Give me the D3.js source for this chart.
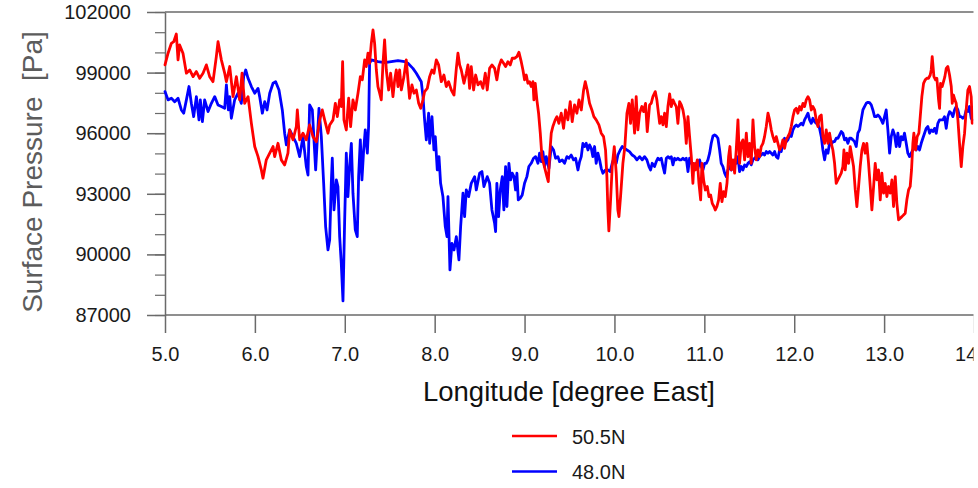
<!DOCTYPE html>
<html>
<head>
<meta charset="utf-8">
<script src="https://cdn.jsdelivr.net/npm/d3@7"></script>
<style>
  html, body { margin: 0; padding: 0; background: #fff; overflow: hidden; }
  svg { display: block; font-family: "Liberation Sans", Arial, Helvetica, sans-serif; }
</style>
</head>
<body>
<svg id="chart" width="978" height="488"></svg>
<script>
// Surface pressure along two latitude bands, [longitude (deg E), pressure (Pa)]
const ps505N = [
[5.000,99380],[5.034,99960],[5.071,100450],[5.097,100530],[5.126,100910],[5.145,99630],[5.163,100370],[5.200,99960],
[5.238,98970],[5.275,99130],[5.312,98800],[5.349,99050],[5.386,98720],[5.423,98970],[5.460,99380],[5.497,98800],
[5.534,98550],[5.571,99790],[5.590,100530],[5.627,99630],[5.664,98970],[5.683,98550],[5.720,99300],[5.757,97810],
[5.794,98800],[5.831,97650],[5.857,98970],[5.886,97480],[5.924,97810],[5.961,96490],[5.998,95340],[6.035,94840],
[6.072,94180],[6.090,93770],[6.127,94680],[6.165,95010],[6.202,95340],[6.220,94840],[6.257,95500],[6.294,94680],
[6.331,94430],[6.368,95010],[6.387,96160],[6.424,95670],[6.461,96330],[6.472,97150],[6.498,95670],[6.535,96000],
[6.572,95670],[6.609,96410],[6.646,95830],[6.684,95580],[6.721,96660],[6.750,97150],[6.776,96660],[6.813,96000],
[6.832,96410],[6.869,96660],[6.895,97480],[6.917,96820],[6.943,97650],[6.961,97320],[6.976,99540],[6.991,96660],
[7.017,96160],[7.043,97730],[7.065,96330],[7.091,97650],[7.117,97150],[7.147,97980],[7.173,98800],[7.195,98640],
[7.221,99630],[7.239,99300],[7.258,99960],[7.276,99460],[7.295,100450],[7.314,101110],[7.332,100450],[7.351,99130],
[7.369,98310],[7.388,97980],[7.406,97650],[7.425,99460],[7.443,100620],[7.462,99130],[7.488,98140],[7.510,98970],
[7.536,97810],[7.555,98640],[7.573,99130],[7.592,98310],[7.610,99130],[7.629,98140],[7.658,98800],[7.684,99630],
[7.703,98640],[7.721,97730],[7.747,98390],[7.770,97980],[7.796,98140],[7.822,97480],[7.844,97230],[7.870,97650],
[7.888,98060],[7.918,98220],[7.944,98800],[7.970,99130],[7.992,98970],[8.018,99630],[8.044,99380],[8.074,98550],
[8.103,98880],[8.129,98310],[8.155,98550],[8.185,98140],[8.215,97890],[8.241,99210],[8.259,99960],[8.278,99380],
[8.296,99130],[8.326,98470],[8.352,98970],[8.370,99380],[8.389,98220],[8.407,99300],[8.433,98140],[8.456,98880],
[8.482,98390],[8.511,98550],[8.537,98220],[8.563,98970],[8.585,98140],[8.611,99210],[8.637,99380],
[8.667,99210],[8.692,98640],[8.715,99300],[8.741,99630],[8.767,99460],[8.789,99300],[8.815,99540],[8.841,99380],
[8.863,99710],[8.889,99710],[8.915,99790],[8.937,100010],[8.963,99540],[8.982,99130],[9.000,98640],[9.019,98880],
[9.037,98470],[9.056,98550],[9.074,98310],[9.093,98550],[9.104,97650],[9.119,98470],[9.137,97650],[9.156,96990],
[9.175,96000],[9.193,94840],[9.212,94510],[9.230,94180],[9.249,93850],[9.264,93600],[9.278,94840],[9.297,96000],
[9.315,96330],[9.341,96660],[9.360,96820],[9.382,96490],[9.408,96990],[9.434,96240],[9.456,97150],[9.482,96660],
[9.508,97560],[9.530,96570],[9.556,97400],[9.582,96990],[9.605,97650],[9.631,97150],[9.657,98140],[9.675,98550],
[9.697,98140],[9.723,97480],[9.749,97150],[9.771,96820],[9.797,96660],[9.827,96410],[9.853,96000],[9.879,95830],
[9.901,95170],[9.916,93850],[9.927,92200],[9.938,91160],[9.957,92700],[9.975,94350],[9.998,95340],[10.020,94020],
[10.038,92200],[10.050,91870],[10.068,92860],[10.094,94510],[10.116,95340],[10.139,96990],[10.161,97480],[10.179,96490],
[10.198,97650],[10.224,96000],[10.242,97810],[10.261,96160],[10.280,96990],[10.305,97320],[10.324,97070],[10.346,97480],
[10.365,96080],[10.391,97400],[10.409,97480],[10.428,97810],[10.454,98060],[10.472,97650],
[10.503,96490],[10.521,96820],[10.540,96410],[10.558,96990],[10.577,96330],[10.595,97320],[10.614,97940],[10.632,97320],
[10.651,97650],[10.669,97480],[10.688,97320],[10.706,96490],[10.725,97560],[10.744,97400],[10.762,97150],[10.781,96660],
[10.799,95500],[10.818,96820],[10.836,95830],[10.855,94840],[10.873,93520],[10.884,94510],[10.899,94180],[10.922,94680],
[10.940,93520],[10.959,92700],[10.973,94510],[10.992,93690],[11.011,93190],[11.033,93360],[11.051,92860],[11.070,92940],
[11.088,92530],[11.107,92370],[11.122,92200],[11.140,92370],[11.159,92700],[11.177,93520],[11.196,92610],[11.214,93110],
[11.233,92860],[11.252,93520],[11.270,94840],[11.285,95340],[11.300,94180],[11.318,94680],[11.337,94020],[11.355,95170],
[11.374,96660],[11.392,94510],[11.411,95500],[11.429,95670],[11.448,94680],[11.467,96000],[11.485,94840],[11.504,95500],
[11.522,94510],[11.541,96660],[11.559,95340],[11.578,94680],[11.596,95170],[11.615,94840],[11.633,95340],[11.652,95500],
[11.670,95830],[11.689,96330],[11.708,96990],[11.726,96660],[11.745,96160],[11.763,95830],[11.782,95580],[11.800,95830],
[11.819,95500],[11.837,95170],[11.856,95340],[11.874,95670],[11.893,95250],[11.911,95670],[11.930,95830],[11.949,96000],
[11.967,96330],[11.986,96820],[12.004,97150],[12.023,97230],[12.041,96990],[12.060,97320],[12.078,97150],[12.097,97480],
[12.115,97320],[12.134,97650],[12.153,97810],[12.171,97650],[12.190,97150],[12.208,97320],[12.227,97150],[12.245,96660],
[12.264,96330],[12.282,96820],[12.301,96900],[12.319,95830],
[12.338,95500],[12.356,96160],[12.375,95500],[12.393,96000],[12.412,95500],[12.430,95170],[12.449,94510],[12.467,93520],
[12.486,93690],[12.504,93850],[12.523,94020],[12.541,94350],[12.553,95170],[12.567,94180],[12.586,95010],[12.605,94510],
[12.623,95340],[12.642,94840],[12.660,94350],[12.679,93190],[12.697,92370],[12.716,93360],[12.734,94350],[12.753,95170],
[12.771,95500],[12.790,95010],[12.808,95500],[12.827,94510],[12.846,93360],[12.864,92200],[12.883,93360],[12.901,94510],
[12.920,93690],[12.938,94180],[12.957,92700],[12.975,94020],[12.994,93030],[13.012,93520],[13.031,92860],[13.049,93360],
[13.068,93030],[13.087,93690],[13.105,92370],[13.124,93850],[13.142,92530],[13.161,91710],[13.179,91790],[13.198,91870],
[13.216,91950],[13.235,92040],[13.253,92700],[13.272,93190],[13.290,93360],[13.305,94180],[13.320,95500],[13.331,96000],
[13.350,95170],[13.368,95830],[13.387,96000],[13.402,96820],[13.420,97810],[13.439,98470],[13.457,98640],[13.476,98720],
[13.494,98720],[13.513,98880],[13.524,99130],[13.535,99790],[13.554,98800],[13.572,98640],[13.587,98720],[13.606,97650],
[13.617,97230],[13.628,98470],[13.646,98310],[13.661,98550],[13.676,98800],[13.691,99210],[13.709,99300],[13.728,98880],
[13.747,98310],[13.758,97480],[13.772,97890],[13.787,97650],[13.802,97480],[13.821,96660],[13.839,95500],[13.858,94350],
[13.876,95340],[13.895,96000],[13.913,97150],[13.932,98140],[13.950,98310],[13.969,97810],[13.980,96490]
];

const ps480N = [
[5.000,98060],[5.034,97650],[5.071,97730],[5.108,97560],[5.145,97730],[5.182,97150],[5.208,96990],[5.238,97650],
[5.267,98310],[5.293,97480],[5.319,96820],[5.349,97810],[5.378,96660],[5.393,97650],[5.416,96570],[5.441,97650],
[5.479,97070],[5.516,97480],[5.553,97810],[5.590,97400],[5.627,97320],[5.664,97230],[5.683,98390],[5.705,97150],
[5.720,97810],[5.738,96740],[5.775,97650],[5.812,97980],[5.849,97480],[5.875,98800],[5.898,99130],[5.924,98720],
[5.961,98310],[5.998,97980],[6.035,98220],[6.053,97810],[6.083,96990],[6.109,97560],[6.135,97150],[6.165,97980],
[6.202,98470],[6.231,98550],[6.268,98140],[6.305,97150],[6.331,96000],[6.350,95420],[6.387,96160],[6.424,95830],
[6.461,95500],[6.498,94840],[6.535,95830],[6.572,94350],[6.591,93930],[6.609,97400],[6.639,97150],[6.676,94180],
[6.713,97230],[6.739,95830],[6.765,93520],[6.787,91380],[6.813,90220],
[6.832,90720],[6.850,93520],[6.861,94760],[6.880,92200],[6.906,93690],[6.924,93360],[6.943,90880],[6.961,89560],
[6.980,87700],[6.998,91540],[7.017,95010],[7.035,92860],[7.054,94350],[7.073,95500],[7.091,93030],[7.117,91210],
[7.139,90880],[7.154,93850],[7.173,95670],[7.191,93690],[7.210,95170],[7.228,96160],[7.251,95010],[7.265,96330],
[7.276,99460],[7.295,99630],[7.369,99540],[7.443,99490],[7.517,99540],[7.592,99590],[7.666,99540],[7.703,99460],
[7.758,99210],[7.796,98970],[7.851,98550],[7.870,97810],[7.888,96660],[7.907,95670],[7.933,96990],[7.944,95500],
[7.970,96820],[7.992,95170],[8.007,95830],[8.029,94180],[8.048,94840],[8.066,93520],[8.092,92860],[8.118,91380],
[8.137,90880],[8.148,92860],[8.170,89230],[8.192,90550],[8.215,90220],[8.241,90880],[8.270,89730],[8.289,91380],
[8.315,93030],[8.333,91870],[8.352,93190],[8.378,92860],[8.407,93520],[8.445,93850],[8.463,93190],[8.500,94020],
[8.526,94100],[8.548,93360],[8.585,93850],[8.611,93520],[8.637,92200],
[8.667,91540],[8.678,91130],[8.692,93520],[8.711,91870],[8.730,93190],[8.752,93850],[8.770,92200],[8.789,94350],
[8.804,92370],[8.826,94510],[8.845,93690],[8.863,94020],[8.882,93850],[8.900,93190],[8.915,94020],[8.930,92700],
[8.952,92780],[8.974,92940],[9.000,93520],[9.026,93850],[9.048,94350],[9.074,94510],[9.100,94760],[9.123,94840],
[9.149,94510],[9.167,95010],[9.186,94590],[9.204,95090],[9.223,94350],[9.241,94840],[9.271,94260],[9.297,95340],
[9.323,95170],[9.345,94760],[9.371,94840],[9.390,94590],[9.419,94680],[9.445,94510],[9.471,94840],[9.493,94760],
[9.519,94920],[9.545,94680],[9.568,94760],[9.594,94180],[9.612,94590],[9.631,94840],[9.649,95500],[9.668,95340],
[9.686,95500],[9.705,95170],[9.723,95420],[9.742,95250],[9.760,94840],[9.779,95340],[9.797,94510],[9.816,95010],
[9.835,94680],[9.853,94260],[9.872,94020],[9.901,94180],[9.927,94180],[9.953,94100],[9.975,94510],[10.001,94840],
[10.020,94510],[10.038,94920],[10.064,95170],[10.087,95340],[10.113,95250],[10.139,95170],[10.168,95090],[10.198,94920],
[10.224,94840],[10.250,94680],[10.280,94840],[10.309,94680],[10.335,94840],[10.361,94680],[10.384,94350],[10.402,94180],
[10.420,94510],[10.446,94350],[10.465,94590],
[10.484,94760],[10.503,94680],[10.521,94760],[10.540,94350],[10.558,94020],[10.577,94760],[10.595,94840],[10.614,94760],
[10.632,94840],[10.651,94430],[10.669,94760],[10.688,94680],[10.706,94760],[10.725,94680],[10.744,94680],[10.762,94760],
[10.781,94680],[10.799,94760],[10.818,94100],[10.836,94760],[10.855,94510],[10.873,94510],[10.892,94350],[10.910,94510],
[10.929,94260],[10.947,94680],[10.966,94350],[10.985,94180],[11.003,94510],[11.022,94510],[11.040,94680],[11.059,95010],
[11.077,95500],[11.096,95860],[11.114,95910],[11.133,95860],[11.151,95750],[11.170,95170],[11.188,94510],[11.207,94350],
[11.226,94020],[11.244,93850],[11.263,94180],[11.281,94350],[11.300,94180],[11.318,94350],[11.337,94680],[11.355,94510],
[11.374,94840],[11.392,94100],[11.411,94350],[11.429,94180],[11.448,94430],[11.467,94350],[11.485,94510],[11.504,94590],
[11.522,94430],[11.541,94680],[11.559,94760],[11.578,94840],[11.596,94680],[11.615,94840],[11.633,94920],[11.652,95010],
[11.670,94920],[11.689,95090],[11.708,95010],[11.726,95090],[11.745,95010],[11.763,94920],[11.782,95090],[11.800,94840],
[11.819,94760],[11.837,95170],[11.856,95090],[11.874,95500],[11.893,95750],[11.911,95580],[11.930,95670],[11.949,95910],
[11.967,95830],[11.986,96160],[12.004,96330],[12.023,96410],[12.041,96330],[12.060,96410],[12.078,96490],[12.097,96410],
[12.115,96660],[12.134,96820],[12.153,96990],[12.171,96660],[12.190,96490],[12.208,96740],[12.227,96570],[12.245,96490],
[12.264,96410],[12.282,96240],[12.301,95830],[12.319,95170],
[12.338,94680],[12.356,95170],[12.375,95010],[12.393,95500],[12.412,95420],[12.430,95580],[12.449,95580],[12.467,95750],
[12.486,95750],[12.504,95910],[12.523,96080],[12.541,96000],[12.560,95670],[12.579,95750],[12.597,95500],[12.616,95750],
[12.634,95750],[12.653,95670],[12.671,95580],[12.690,95340],[12.708,96000],[12.727,96160],[12.745,96660],[12.764,97150],
[12.782,97320],[12.801,97480],[12.820,97530],[12.838,97510],[12.857,97400],[12.875,97150],[12.894,96820],[12.912,96820],
[12.931,96900],[12.949,96820],[12.968,96660],[12.986,96490],[13.005,96820],[13.023,97150],[13.042,96160],[13.061,95010],
[13.079,95830],[13.098,96160],[13.116,95910],[13.135,95340],[13.153,96000],[13.172,95340],[13.190,95830],[13.209,95670],
[13.227,96000],[13.246,95500],[13.264,95010],[13.283,94840],[13.302,95010],[13.320,95170],[13.339,95340],[13.357,95170],
[13.376,95340],[13.394,95170],[13.413,95500],[13.431,95750],[13.450,96000],[13.468,96240],[13.487,96330],[13.506,96000],
[13.524,96160],[13.543,96080],[13.561,96240],[13.580,96000],[13.598,96490],[13.617,96660],[13.635,96660],[13.654,96660],
[13.672,96820],[13.691,96240],[13.709,96820],[13.728,97070],[13.747,96990],[13.765,96820],[13.784,97150],[13.802,97320],
[13.821,97150],[13.839,96820],[13.858,96820],[13.876,96740],[13.895,96820],[13.913,97150],[13.932,97070],[13.950,97320],
[13.969,96740],[13.980,96660]
];

const lonTicks = [5, 6, 7, 8, 9, 10, 11, 12, 13, 14];
const psTicks = [87000, 90000, 93000, 96000, 99000, 102000];
const psMinorTicks = [87000, 88000, 89000, 90000, 91000, 92000, 93000, 94000,
                      95000, 96000, 97000, 98000, 99000, 100000, 101000, 102000];
const seriesNames = ["50.5N", "48.0N"];
const seriesColors = ["#ff0000", "#0000ff"];

(function draw() {
  const svg = d3.select("#chart");
  const m = { left: 165, right: 974, top: 12, bottom: 315 };
  const W = 978, H = 488;
  const clipX = 973.5;            // the panel is trimmed just short of its right edge
  const axisColor = "#6a6a6a";
  const labelFont = "Liberation Sans, Arial, sans-serif";

  const x = d3.scaleLinear().domain([5, 14]).range([m.left, m.right]);
  const y = d3.scaleLinear().domain([87000, 102000]).range([m.bottom, m.top]);

  // top edge of the frame
  svg.append("line").attr("x1", m.left).attr("x2", W).attr("y1", m.top).attr("y2", m.top)
    .attr("stroke", axisColor).attr("stroke-width", 1.5);

  // y axis: minor ticks, then labelled major ticks, both outward
  const yMinor = svg.append("g").attr("transform", `translate(${m.left},0)`)
    .call(d3.axisLeft(y).tickValues(psMinorTicks).tickSize(10).tickFormat(""));
  yMinor.select(".domain").remove();
  yMinor.selectAll("line").attr("stroke", axisColor).attr("stroke-width", 1.2);

  const yAxis = svg.append("g").attr("transform", `translate(${m.left},0)`)
    .call(d3.axisLeft(y).tickValues(psTicks).tickSize(18).tickSizeOuter(0).tickPadding(16)
      .tickFormat(d3.format("d")));
  yAxis.select(".domain").attr("stroke", axisColor).attr("stroke-width", 1.5);
  yAxis.selectAll("line").attr("stroke", axisColor).attr("stroke-width", 1.5);
  yAxis.selectAll("text").attr("font-size", 20).attr("fill", "#1a1a1a").attr("font-family", labelFont);

  // x axis
  const xAxis = svg.append("g").attr("transform", `translate(0,${m.bottom})`)
    .call(d3.axisBottom(x).tickValues(lonTicks).tickSize(18).tickSizeOuter(0).tickPadding(14)
      .tickFormat(d3.format(".1f")));
  xAxis.select(".domain").remove();
  xAxis.selectAll("line").attr("stroke", axisColor).attr("stroke-width", 1.5);
  xAxis.selectAll("text").attr("font-size", 20).attr("fill", "#1a1a1a").attr("font-family", labelFont);
  svg.append("line").attr("x1", m.left).attr("x2", W).attr("y1", m.bottom).attr("y2", m.bottom)
    .attr("stroke", axisColor).attr("stroke-width", 1.5);

  // data lines (48.0N first so 50.5N sits on top)
  const line = d3.line().x(d => x(d[0])).y(d => y(d[1]));
  const plot = svg.append("g");
  [[ps480N, 1], [ps505N, 0]].forEach(([data, i]) => {
    plot.append("path").datum(data)
      .attr("d", line)
      .attr("fill", "none")
      .attr("stroke", seriesColors[i])
      .attr("stroke-width", 2.8)
      .attr("stroke-linejoin", "round")
      .attr("stroke-linecap", "round");
  });

  // trimmed right margin
  svg.append("rect").attr("x", clipX).attr("y", 0)
    .attr("width", W - clipX).attr("height", H).attr("fill", "#fff");

  // axis titles
  svg.append("text")
    .attr("transform", "translate(42,172) rotate(-90)")
    .attr("text-anchor", "middle")
    .attr("font-size", 28)
    .attr("fill", "#5c5c5c")
    .style("white-space", "pre")
    .text("Surface Pressure  [Pa]");

  svg.append("text")
    .attr("x", 569).attr("y", 401)
    .attr("text-anchor", "middle")
    .attr("font-size", 27.5)
    .attr("fill", "#111")
    .text("Longitude [degree East]");

  // legend
  const legendY = [436, 471.5];
  seriesNames.forEach((name, i) => {
    svg.append("line")
      .attr("x1", 512).attr("x2", 557)
      .attr("y1", legendY[i]).attr("y2", legendY[i])
      .attr("stroke", seriesColors[i]).attr("stroke-width", 2.6);
    svg.append("text")
      .attr("x", 572).attr("y", legendY[i] + 7.5)
      .attr("font-size", 20)
      .attr("fill", "#1a1a1a")
      .text(name);
  });
})();
</script>
</body>
</html>
